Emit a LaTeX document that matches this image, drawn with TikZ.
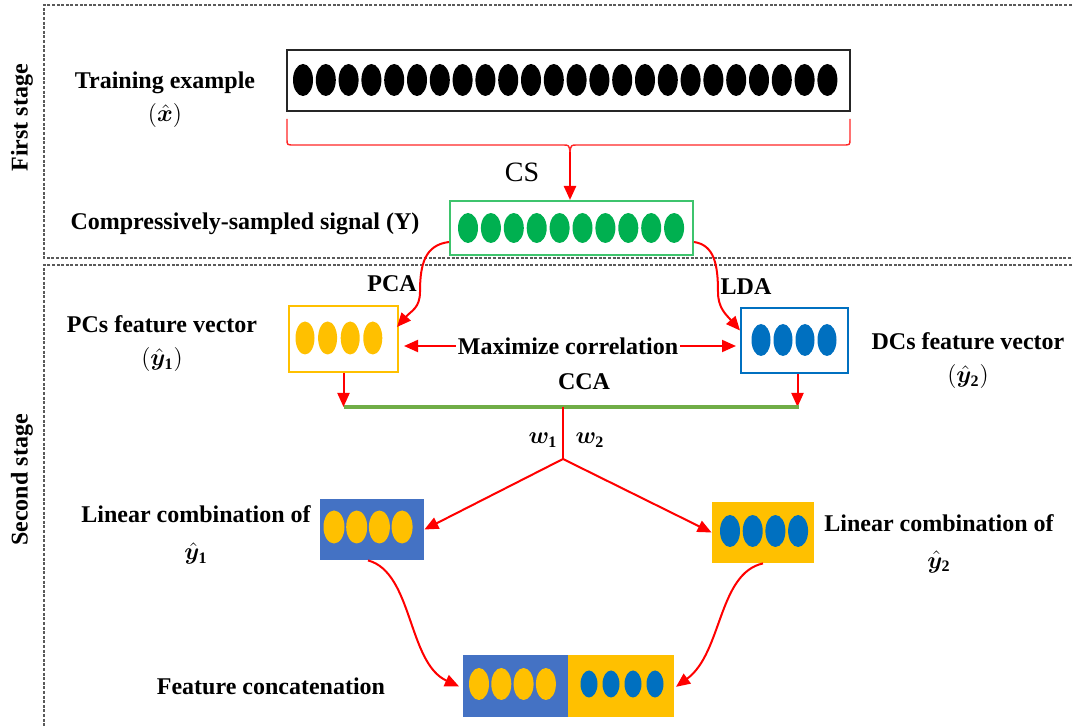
\documentclass[tikz,border=0pt]{standalone}
\usepackage{fontspec}
\setmainfont{Liberation Serif}
\usepackage{amsmath,bm}
\usetikzlibrary{shapes.geometric,arrows.meta,calc}

\definecolor{cred}{HTML}{FF0000}
\definecolor{cgreen}{HTML}{00B050}
\definecolor{cgreenb}{HTML}{3EC46D}
\definecolor{cyel}{HTML}{FFC000}
\definecolor{cblue}{HTML}{0070C0}
\definecolor{cbluef}{HTML}{4472C4}
\definecolor{cline}{HTML}{70AD47}
\definecolor{cdash}{HTML}{5A5A5A}

\tikzset{
  lbl/.style={font=\fontsize{12}{16.5}\selectfont\bfseries, align=center, inner sep=1pt},
  dot/.style={ellipse, inner sep=0pt, draw=none},
  arr/.style={draw=cred, line width=1pt, -{Triangle[length=7pt,width=6pt]}},
  stagebox/.style={draw=cdash, line width=0.6pt, dash pattern=on 1.5pt off 0.8pt},
  vecbox/.style={inner sep=0pt},
}

\begin{document}
\begin{tikzpicture}[x=0.5pt,y=-0.5pt]
\useasboundingbox (0,0) rectangle (1073,727);
\clip (0,0) rectangle (1073,727);

% stage frames
\draw[stagebox] (1090,5) -- (44,5) -- (44,258) -- (1090,258);
\draw[stagebox] (1090,265) -- (44,265) -- (44,740);
\node[lbl, rotate=90] (s1) at (22,118) {First stage};
\node[lbl, rotate=90] (s2) at (22,480) {Second stage};

% training example
\node[vecbox, draw=black!85, line width=1pt, minimum width=281.5pt, minimum height=30.5pt] (train) at (568.5,80.5) {};
\foreach \i in {0,...,23}
  \node[dot, fill=black, minimum width=10pt, minimum height=16pt] (x\i) at ({303+22.8*\i},80) {};
\node[lbl] (ttrain) at (165,100) {Training example\\$(\boldsymbol{\hat{x}})$};

% compressive sampling bracket and arrow
\draw[cred!85, line width=0.7pt] (287,119) -- (287,139) .. controls (287,145) .. (294,145) -- (563,145) .. controls (569,145) .. (570,152);
\draw[cred!85, line width=0.7pt] (850,119) -- (850,139) .. controls (850,145) .. (843,145) -- (577,145) .. controls (571,145) .. (570,152);
\coordinate (nib) at (570,152);
\node[font=\fontsize{14}{16}\selectfont] (cslbl) at (522,172) {CS};

\node[vecbox, draw=cgreenb, line width=1pt, minimum width=121.5pt, minimum height=27pt] (cs) at (571.5,228) {};
\foreach \i in {0,...,9}
  \node[dot, fill=cgreen, minimum width=10pt, minimum height=15pt] (g\i) at ({468+22.9*\i},228) {};
\draw[arr, line width=1.2pt] (nib) -- (nib |- cs.north);
\node[lbl] (tcs) at (245,224) {Compressively-sampled signal (Y)};

% PCA / LDA branches
\node[vecbox, draw=cyel, line width=1pt, minimum width=54.5pt, minimum height=33pt] (pcs) at (343.5,339) {};
\foreach \i in {0,...,3}
  \node[dot, fill=cyel, minimum width=9.5pt, minimum height=16.5pt] (p\i) at ({305+22.6*\i},338) {};
\node[vecbox, draw=cblue, line width=1pt, minimum width=53.5pt, minimum height=32.5pt] (dcs) at (794.5,340.5) {};
\foreach \i in {0,...,3}
  \node[dot, fill=cblue, minimum width=9.5pt, minimum height=16pt] (d\i) at ({761+22*\i},340) {};

\node[lbl] (pca) at (392,284) {PCA};
\node[lbl] (lda) at (746,287) {LDA};
\node[lbl] (tpcs) at (162,343.5) {PCs feature vector\\$(\hat{\boldsymbol{y}}_{\mathbf{1}})$};
\node[lbl] (tdcs) at (968,361) {DCs feature vector\\$(\hat{\boldsymbol{y}}_{\mathbf{2}})$};

\coordinate (pcabend) at (420,292);
\coordinate (ldabend) at (718,292);
\draw[arr] ([yshift=-7pt]cs.west) .. controls +(-24,3) and +(0,-28) .. (pcabend)
  .. controls +(0,16) and +(14,-16) .. ([yshift=6pt,xshift=-1pt]pcs.east);
\draw[arr] ([yshift=-7pt]cs.east) .. controls +(20,3) and +(0,-28) .. (ldabend)
  .. controls +(0,16) and +(-14,-16) .. ([yshift=5pt]dcs.west);

\node[lbl] (maxc) at (568,346) {Maximize correlation};
\draw[arr, shorten >=2.5pt] (maxc.west) -- (maxc.west -| pcs.east);
\draw[arr, shorten >=2pt] (maxc.east) -- (maxc.east -| dcs.west);

% CCA
\coordinate (ccaL) at (344,407);
\coordinate (ccaR) at (799,407);
\coordinate (ccaM) at (563,407);
\coordinate (split) at (563,459);
\draw[arr] (pcs.south) -- (pcs.south |- ccaL);
\draw[arr] ([xshift=1.5pt]dcs.south) -- ([xshift=1.5pt]dcs.south |- ccaR);
\draw[cline, line width=2pt] (ccaL) -- (ccaR);
\node[lbl] (cca) at (584,382) {CCA};
\draw[cred, line width=0.65pt] (ccaM) -- (split);
\node[lbl] (w1) at (543,440) {$\boldsymbol{w}_{\mathbf{1}}$};
\node[lbl] (w2) at (590,440) {$\boldsymbol{w}_{\mathbf{2}}$};

% linear combinations
\node[vecbox, fill=cbluef, minimum width=52pt, minimum height=30.5pt] (lin1) at (372,529.5) {};
\foreach \i in {0,...,3}
  \node[dot, fill=cyel, minimum width=10.5pt, minimum height=16.5pt] (l\i) at ({334+22.7*\i},527) {};
\node[vecbox, fill=cyel, minimum width=51pt, minimum height=30.5pt] (lin2) at (763,532.5) {};
\foreach \i in {0,...,3}
  \node[dot, fill=cblue, minimum width=10pt, minimum height=16pt] (r\i) at ({730+22.7*\i},531) {};
\draw[arr] (split) -- (lin1.east);
\draw[arr] (split) -- (lin2.west);
\node[lbl] (tlin1) at (196,535) {Linear combination of\\[2pt]$\hat{\boldsymbol{y}}_{\mathbf{1}}$};
\node[lbl] (tlin2) at (939,543.5) {Linear combination of\\[2pt]$\hat{\boldsymbol{y}}_{\mathbf{2}}$};

% concatenation
\node[vecbox, fill=cbluef, minimum width=52.5pt, minimum height=31pt] (cat1) at (515.5,686) {};
\node[vecbox, fill=cyel, minimum width=53pt, minimum height=31pt] (cat2) at (621,686) {};
\foreach \i in {0,...,3}
  \node[dot, fill=cyel, minimum width=10pt, minimum height=16pt] (c\i) at ({479+22.3*\i},684) {};
\foreach \i in {0,...,3}
  \node[dot, fill=cblue, minimum width=8.5pt, minimum height=13.5pt] (b\i) at ({589+22*\i},684) {};
\node[lbl] (tcat) at (271,686) {Feature concatenation};

\draw[arr, shorten >=2pt] ([xshift=-2pt]lin1.south) .. controls +(45,12) and +(-55,-25) .. ([yshift=-1pt]cat1.west);
\draw[arr, shorten >=1pt] (lin2.south) .. controls +(-45,10) and +(48,-35) .. ([yshift=-1pt]cat2.east);
\end{tikzpicture}
\end{document}
